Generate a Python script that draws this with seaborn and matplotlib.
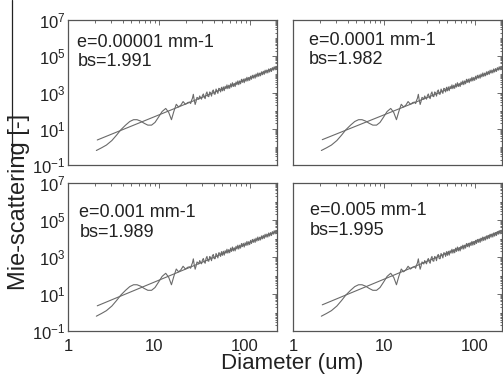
import numpy as np
import pandas as pd
import matplotlib
matplotlib.use("Agg")
import matplotlib.pyplot as plt
import matplotlib.ticker as mticker
from matplotlib.lines import Line2D
from matplotlib.transforms import ScaledTranslation
import seaborn as sns

# ---------------- data (log10 units on log axes) ----------------
panel_labels = ["e=0.00001 mm-1", "e=0.0001 mm-1", "e=0.001 mm-1", "e=0.005 mm-1"]
panel_bs = ["bs=1.991", "bs=1.982", "bs=1.989", "bs=1.995"]

# fitted power-law line endpoints (diameter um, scattering)
fit_diam = [2.1, 200.0]
fit_lo = [2.4, 2.5, 2.3, 2.6]
fit_hi = [2.6e4, 2.4e4, 2.5e4, 2.8e4]

# Mie curve: log10(diameter) and log10(scattering)
mie_log_d = [
    0.312, 0.370, 0.423, 0.483, 0.535, 0.583, 0.634, 0.680, 0.722, 0.760, 0.801, 0.839,
    0.879, 0.920, 0.958, 0.998, 1.036, 1.076, 1.109, 1.139, 1.165, 1.192, 1.217,
    1.242, 1.267, 1.293, 1.320,
    1.34, 1.35, 1.36, 1.37, 1.38, 1.39, 1.40, 1.41, 1.42, 1.43, 1.44, 1.45, 1.46,
    1.47, 1.48, 1.49, 1.50, 1.51, 1.52, 1.53, 1.54, 1.55, 1.56, 1.57, 1.58, 1.59,
    1.60, 1.61, 1.62, 1.63, 1.64, 1.65, 1.66, 1.67, 1.68, 1.69, 1.70, 1.71, 1.72,
    1.73, 1.74, 1.75, 1.76, 1.77, 1.78, 1.79, 1.80, 1.81, 1.82, 1.83, 1.84, 1.85,
    1.86, 1.87, 1.88, 1.89, 1.90, 1.91, 1.92, 1.93, 1.94, 1.95, 1.96, 1.97, 1.98,
    1.99, 2.00, 2.01, 2.02, 2.03, 2.04, 2.05, 2.06, 2.07, 2.08, 2.09, 2.10, 2.11,
    2.12, 2.13, 2.14, 2.15, 2.16, 2.17, 2.18, 2.19, 2.20, 2.21, 2.22, 2.23, 2.24,
    2.25, 2.26, 2.27, 2.28, 2.29, 2.30, 2.31, 2.32,
]
mie_log_v = [
    -0.20, -0.05, 0.10, 0.35, 0.65, 0.95, 1.20, 1.40, 1.50, 1.50, 1.42, 1.30,
    1.20, 1.20, 1.35, 1.65, 1.95, 2.12, 1.90, 1.50, 1.95, 2.35, 2.20,
    2.30, 2.50, 2.35, 2.45,
    2.47, 2.39, 2.56, 2.68, 2.90, 2.57, 2.34, 2.51, 2.73, 2.70, 2.62, 2.81, 2.71,
    2.63, 2.83, 2.92, 2.74, 2.66, 2.93, 3.03, 2.79, 2.77, 3.03, 2.98, 2.80, 3.07,
    3.14, 2.91, 2.91, 3.19, 3.09, 2.95, 3.23, 3.21, 3.03, 3.29, 3.09, 3.31, 3.10,
    3.34, 3.21, 3.42, 3.21, 3.40, 3.23, 3.48, 3.30, 3.54, 3.33, 3.50, 3.33, 3.58,
    3.43, 3.64, 3.43, 3.64, 3.48, 3.73, 3.56, 3.74, 3.54, 3.77, 3.62, 3.84, 3.64,
    3.83, 3.67, 3.90, 3.73, 3.95, 3.79, 3.97, 3.79, 4.02, 3.86, 4.08, 3.89, 4.07,
    3.92, 4.14, 3.98, 4.17, 4.00, 4.23, 4.07, 4.24, 4.08, 4.30, 4.13, 4.32, 4.16,
    4.37, 4.23, 4.42, 4.25, 4.44, 4.28, 4.49, 4.34,
]

x_ticks = [1, 10, 100]
x_tick_labels = ["1", "10", "100"]
y_ticks = [1e-1, 1e1, 1e3, 1e5, 1e7]

# ---------------- style ----------------
sns.set_theme(style="white")
plt.rcParams["font.family"] = ["Liberation Sans", "DejaVu Sans"]
plt.rcParams["mathtext.fontset"] = "custom"
plt.rcParams["mathtext.rm"] = "Liberation Sans"
plt.rcParams["mathtext.it"] = "Liberation Sans:italic"
plt.rcParams["mathtext.bf"] = "Liberation Sans:bold"

line_col = "#6a6a6a"
frame_col = "#555555"
text_col = "#222222"

fig = plt.figure(figsize=(5.03, 3.77), dpi=100)
W, H = 503.0, 377.0
boxes = [
    (68, 20, 209, 145),
    (293, 20, 209, 145),
    (68, 183, 209, 148),
    (293, 183, 209, 148),
]
text_pos = [(0.045, 0.905), (0.075, 0.92), (0.055, 0.855), (0.08, 0.87)]

mie_df = pd.DataFrame({"d": 10 ** np.array(mie_log_d), "v": 10 ** np.array(mie_log_v)})

for i, (x0, y0, w, h) in enumerate(boxes):
    ax = fig.add_axes([x0 / W, 1 - (y0 + h) / H, w / W, h / H])
    fit_df = pd.DataFrame({"d": fit_diam, "v": [fit_lo[i], fit_hi[i]]})
    sns.lineplot(data=mie_df, x="d", y="v", ax=ax, color=line_col, lw=0.8,
                 sort=False, estimator=None)
    sns.lineplot(data=fit_df, x="d", y="v", ax=ax, color=line_col, lw=0.8,
                 sort=False, estimator=None)
    ax.set_xscale("log")
    ax.set_yscale("log")
    ax.set_xlim(1, 200)
    ax.set_ylim(1e-1, 1e7)
    ax.set_xlabel("")
    ax.set_ylabel("")
    ax.xaxis.set_major_locator(mticker.FixedLocator(x_ticks))
    ax.xaxis.set_minor_locator(mticker.LogLocator(base=10, subs=np.arange(2, 10)))
    ax.yaxis.set_major_locator(mticker.FixedLocator(y_ticks))
    ax.yaxis.set_minor_locator(mticker.LogLocator(base=10, subs=np.arange(1, 10), numticks=20))
    ax.yaxis.set_major_formatter(mticker.LogFormatterMathtext())
    if i >= 2:
        ax.set_xticklabels(x_tick_labels)
    else:
        ax.xaxis.set_major_formatter(mticker.NullFormatter())
    if i % 2 == 1:
        ax.yaxis.set_major_formatter(mticker.NullFormatter())
    ax.xaxis.set_minor_formatter(mticker.NullFormatter())
    ax.yaxis.set_minor_formatter(mticker.NullFormatter())
    ax.tick_params(which="both", direction="in", top=True, right=True,
                   color=frame_col, width=0.6, labelsize=12,
                   labelcolor=text_col)
    ax.tick_params(axis="y", pad=2)
    ax.tick_params(axis="x", pad=6)
    ax.tick_params(which="major", length=3.5)
    ax.tick_params(which="minor", length=1.8)
    for s in ax.spines.values():
        s.set_color(frame_col)
        s.set_linewidth(0.9)
    if i == 2:
        for lab in ax.get_xticklabels()[1:]:
            lab.set_transform(lab.get_transform() +
                              ScaledTranslation(-0.05, 0, fig.dpi_scale_trans))
    tx, ty = text_pos[i]
    ax.text(tx, ty, panel_labels[i] + "\n" + panel_bs[i], transform=ax.transAxes,
            ha="left", va="top", fontsize=13, color=text_col, linespacing=1.2)

fig.text(292 / W, 1 - 364 / H, "Diameter (um)", ha="center", va="center",
         fontsize=16, color=text_col)
fig.text(19 / W, 1 - 202 / H, "Mie-scattering [-]", ha="center", va="center",
         rotation=90, fontsize=17, color=text_col)
fig.add_artist(Line2D([12 / W, 12 / W], [1.0, 1 - 160 / H], color=text_col, lw=0.9))

fig.savefig("out.png", dpi=100)
